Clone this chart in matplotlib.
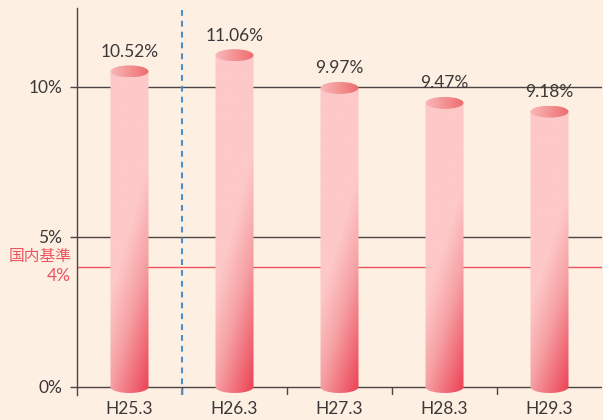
import numpy as np
import matplotlib.pyplot as plt
from matplotlib.colors import LinearSegmentedColormap
from matplotlib.patches import Ellipse, PathPatch
from matplotlib.path import Path

plt.rcParams["font.family"] = ["Lato", "Noto Sans CJK JP", "DejaVu Sans"]

# データ
periods = ["H25.3", "H26.3", "H27.3", "H28.3", "H29.3"]
ratios = [10.52, 11.06, 9.97, 9.47, 9.18]
value_labels = ["10.52%", "11.06%", "9.97%", "9.47%", "9.18%"]
ytick_vals = [0, 5, 10]
ytick_labels = ["0%", "5%", "10%"]
domestic_std = 4
domestic_label = "国内基準"

BG = "#fdf0e2"
LINE = "#4d4545"
TEXT = "#3c3838"
RED = "#ec5560"
FS = 12.5

body_cmap = LinearSegmentedColormap.from_list(
    "body", [(0, "#fec8c8"), (0.4, "#f6a2a5"), (1, "#ec4557")])
top_cmap = LinearSegmentedColormap.from_list("top", ["#f9b9b9", "#ee6c6e"])

fig = plt.figure(figsize=(6.03, 4.20), dpi=100, facecolor=BG)
ax = fig.add_axes([77 / 603, 25 / 420, 525 / 603, 387 / 420], facecolor=BG)

W = 0.362     # 円柱の幅
EH = 0.4      # 楕円の高さ (データ単位)

for i, h in enumerate(ratios):
    x0, x1 = i - W / 2, i + W / 2
    # 胴体 (下端は半楕円)
    t = np.linspace(np.pi, 2 * np.pi, 60)
    verts = [(x0, h), (x0, 0)]
    verts += list(zip(i + W / 2 * np.cos(t), EH / 2 * np.sin(t)))
    verts += [(x1, 0), (x1, h), (x0, h)]
    body = PathPatch(Path(verts, closed=True), transform=ax.transData)

    ny, nx = 200, 60
    yy = np.linspace(h + EH / 2, -EH / 2, ny)
    u = np.linspace(0, 1, nx)
    v = (h - yy) / h
    s = np.clip(v[:, None] * 1.4 + u[None, :] * 0.6 - 1.0, 0, 1)
    im = ax.imshow(body_cmap(s), extent=[x0, x1, -EH / 2, h + EH / 2],
                   origin="upper", aspect="auto", interpolation="bilinear",
                   zorder=3)
    im.set_clip_path(body)

    # 上面の楕円
    top = Ellipse((i, h), W, EH, transform=ax.transData)
    grad = top_cmap(np.tile(np.linspace(0, 1, nx), (20, 1)))
    im2 = ax.imshow(grad, extent=[x0, x1, h - EH / 2, h + EH / 2],
                    aspect="auto", interpolation="bilinear", zorder=4)
    im2.set_clip_path(top)

    ax.annotate(value_labels[i], xy=(i, h + EH / 2), xytext=(0, 4),
                textcoords="offset points", ha="center", va="bottom",
                fontsize=FS, color=TEXT, zorder=5)

# 目盛線
for yv in ytick_vals:
    ax.axhline(yv, color=LINE, linewidth=1.0, zorder=1)
ax.axhline(domestic_std, color=RED, linewidth=1.0, zorder=1)

# 区切りの点線
ax.axvline(0.5, color="#4a8fc9", linewidth=1.5, linestyle=(0, (2.8, 2.4)),
           zorder=2)

ax.vlines(np.arange(0.5, 4.5, 1), -0.267, 0, color=LINE, linewidth=1.0,
          zorder=1)

ax.set_xlim(-0.5, 4.5)
ax.set_ylim(-0.267, 12.633)

ax.set_yticks(ytick_vals)
ax.set_yticklabels(ytick_labels, fontsize=FS, color=TEXT)
ax.tick_params(axis="y", length=5.0, width=1.0, color=LINE, pad=5.5)
ax.set_xticks(range(len(periods)))
ax.set_xticklabels(periods, fontsize=FS, color=TEXT)
ax.tick_params(axis="x", length=0, pad=4)

for side in ["top", "right", "bottom"]:
    ax.spines[side].set_visible(False)
ax.spines["left"].set_color(LINE)
ax.spines["left"].set_linewidth(1.0)

# 国内基準
ytr = ax.get_yaxis_transform()
ax.text(-0.011, domestic_std + 0.32, domestic_label, transform=ytr,
        ha="right", va="center", fontsize=11.3, color=RED)
ax.text(-0.011, domestic_std - 0.3, f"{domestic_std}%", transform=ytr,
        ha="right", va="center", fontsize=FS, color=RED)

fig.savefig("out.png", dpi=100, facecolor=BG)
